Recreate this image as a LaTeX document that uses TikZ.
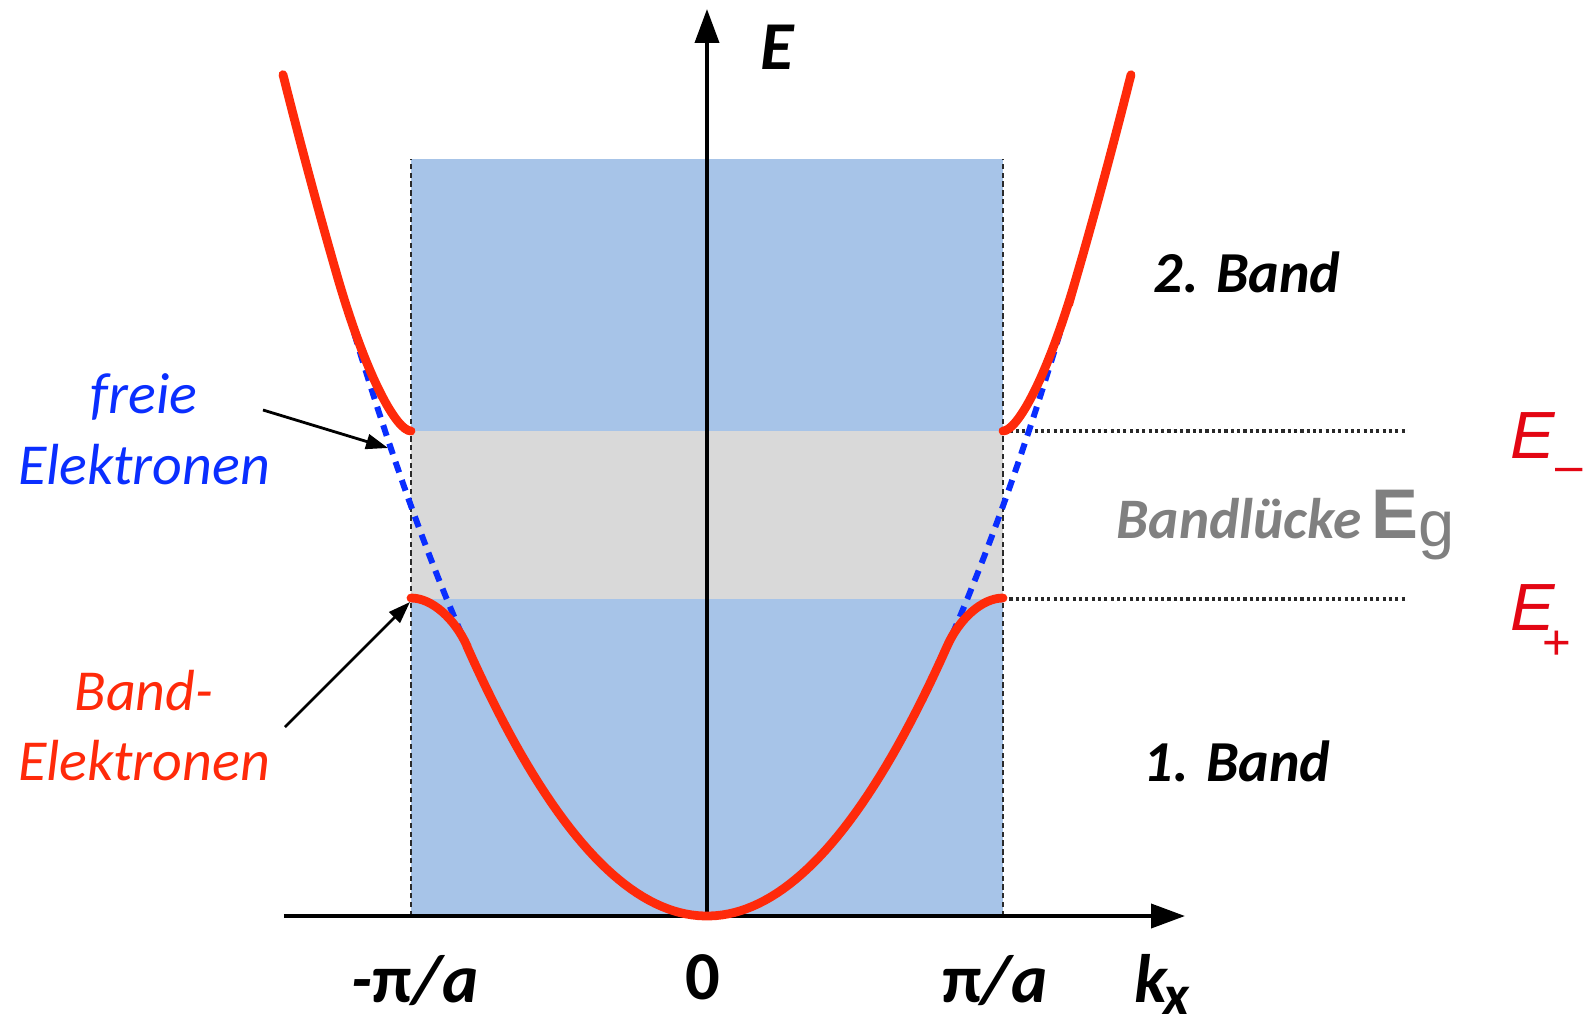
\documentclass[tikz,border=0pt]{standalone}
\usepackage{fontspec}
\setmainfont{Carlito}
\newfontfamily\arialfont{Liberation Sans}
\usetikzlibrary{arrows.meta}
\definecolor{zonenBlau}{HTML}{A7C4E8}
\definecolor{lueckeGrau}{HTML}{D9D9D9}
\definecolor{bandRot}{HTML}{FF2A0A}
\definecolor{freiBlau}{HTML}{0A2EFF}
\definecolor{energieRot}{HTML}{E30613}
\definecolor{textGrau}{HTML}{808080}
\definecolor{randGrau}{HTML}{2A2A2A}
\newcommand{\achsenSchrift}{\fontsize{19.5}{23}\selectfont\bfseries\itshape}
\newcommand{\bandSchrift}{\fontsize{16.5}{20.1}\selectfont}

\begin{document}
\begin{tikzpicture}[
  baender/.style={bandRot,line width=2.5pt,line cap=round},
  frei/.style={freiBlau,line width=1.7pt,dash pattern=on 3.2pt off 2.3pt},
  achse/.style={line width=1.1pt,-{Triangle[length=0.34cm,width=0.24cm]}},
  pfeil/.style={line width=0.8pt,-{Triangle[length=0.22cm,width=0.15cm]}},
  rand/.style={randGrau,line width=0.8pt,dash pattern=on 1.5pt off 1pt},
  niveau/.style={randGrau,line width=1pt,dash pattern=on 0.9pt off 0.9pt}
]
\useasboundingbox (-7.07,-1.11) rectangle (8.84,9.16);
% Brillouin-Zone und Bandluecke
\fill[zonenBlau] (-2.96,0) rectangle (2.96,7.57);
\fill[lueckeGrau] (-2.96,3.17) rectangle (2.96,4.85);
\coordinate (zoneLu) at (-2.96,0);
\coordinate (zoneLo) at (-2.96,7.57);
\coordinate (zoneRu) at (2.96,0);
\coordinate (zoneRo) at (2.96,7.57);
\draw[rand] (zoneLu) -- (zoneLo);
\draw[rand] (zoneRu) -- (zoneRo);
\coordinate (eMinusL) at (2.96,4.85);
\coordinate (eMinusR) at (6.98,4.85);
\coordinate (ePlusL) at (2.96,3.17);
\coordinate (ePlusR) at (6.98,3.17);
\draw[niveau] (eMinusL) -- (eMinusR);
\draw[niveau] (ePlusL) -- (ePlusR);
% Achsen
\coordinate (kStart) at (-4.23,0);
\coordinate (kEnde) at (4.78,0);
\coordinate (ursprung) at (0,0);
\coordinate (eEnde) at (0,9.07);
\draw[achse] (kStart) -- (kEnde);
\draw[achse] (ursprung) -- (eEnde);
% freie Elektronen
\draw[frei] plot[domain=-3.8:3.8,samples=90] (\x,{0.468*\x*\x});
% Baender
\draw[baender] (-2.96,3.18) .. controls (-2.75,3.18) and (-2.52,2.97) .. (-2.4,2.70)
  -- plot[domain=-2.4:2.4,samples=80] (\x,{0.468*\x*\x})
  .. controls (2.52,2.97) and (2.75,3.18) .. (2.96,3.18);
\draw[baender] plot[domain=-4.24:-3.7,samples=20] (\x,{0.468*\x*\x})
  .. controls (-3.4,5.37) and (-3.1,4.85) .. (-2.96,4.85);
\draw[baender] (2.96,4.85) .. controls (3.1,4.85) and (3.4,5.37) .. (3.7,6.41)
  -- plot[domain=3.7:4.24,samples=20] (\x,{0.468*\x*\x});
% Beschriftung
\node[anchor=base west,font=\achsenSchrift] (labelE) at (0.41,8.47) {E};
\node[anchor=base west,font=\achsenSchrift] (labelK) at (4.15,-0.86) {k\kern-1pt\raisebox{-3.6pt}{\fontsize{16}{16}\selectfont x}};
\node[anchor=base,font=\achsenSchrift] (labelMinusPi) at (-2.92,-0.86) {-{\upshape π}/a};
\node[anchor=base,font=\achsenSchrift\upshape] (labelNull) at (-0.04,-0.835) {0};
\node[anchor=base,font=\achsenSchrift] (labelPi) at (2.88,-0.86) {{\upshape π}/a};
\node[anchor=base,font=\bandSchrift\bfseries\itshape] (band2) at (5.40,6.24) {2. Band};
\node[anchor=base,font=\bandSchrift\bfseries\itshape] (band1) at (5.30,1.35) {1. Band};
\node[anchor=base west,inner sep=0pt,text=textGrau] (luecke) at (4.09,3.78)
  {{\fontsize{16.3}{18}\selectfont\bfseries\itshape Bandlücke}\hspace{3pt}{\arialfont\fontsize{20}{20}\selectfont\bfseries E}\raisebox{-2.5pt}{\arialfont\fontsize{18.5}{18.5}\selectfont g}};
\node[anchor=base west,inner sep=0pt,text=energieRot] (eMinus) at (8.03,4.58)
  {\arialfont\fontsize{19}{19}\selectfont\itshape E\raisebox{-7pt}{\fontsize{14}{14}\selectfont\upshape –}};
\node[anchor=base west,inner sep=0pt,text=energieRot] (ePlus) at (8.03,2.86)
  {\arialfont\fontsize{19}{19}\selectfont\itshape E\kern-3.5pt\raisebox{-8.3pt}{\fontsize{14}{14}\selectfont\upshape +}};
\node[align=center,font=\bandSchrift\itshape,text=freiBlau] (freieEl) at (-5.63,4.87) {freie\\Elektronen};
\node[align=center,font=\bandSchrift\itshape,text=bandRot] (bandEl) at (-5.63,1.905) {Band-\\Elektronen};
% Pfeile
\coordinate (startFrei) at (-4.44,5.06);
\coordinate (spitzeFrei) at (-3.19,4.68);
\coordinate (startBand) at (-4.22,1.89);
\coordinate (spitzeBand) at (-2.97,3.14);
\draw[pfeil] (startFrei) -- (spitzeFrei);
\draw[pfeil] (startBand) -- (spitzeBand);
\end{tikzpicture}
\end{document}
